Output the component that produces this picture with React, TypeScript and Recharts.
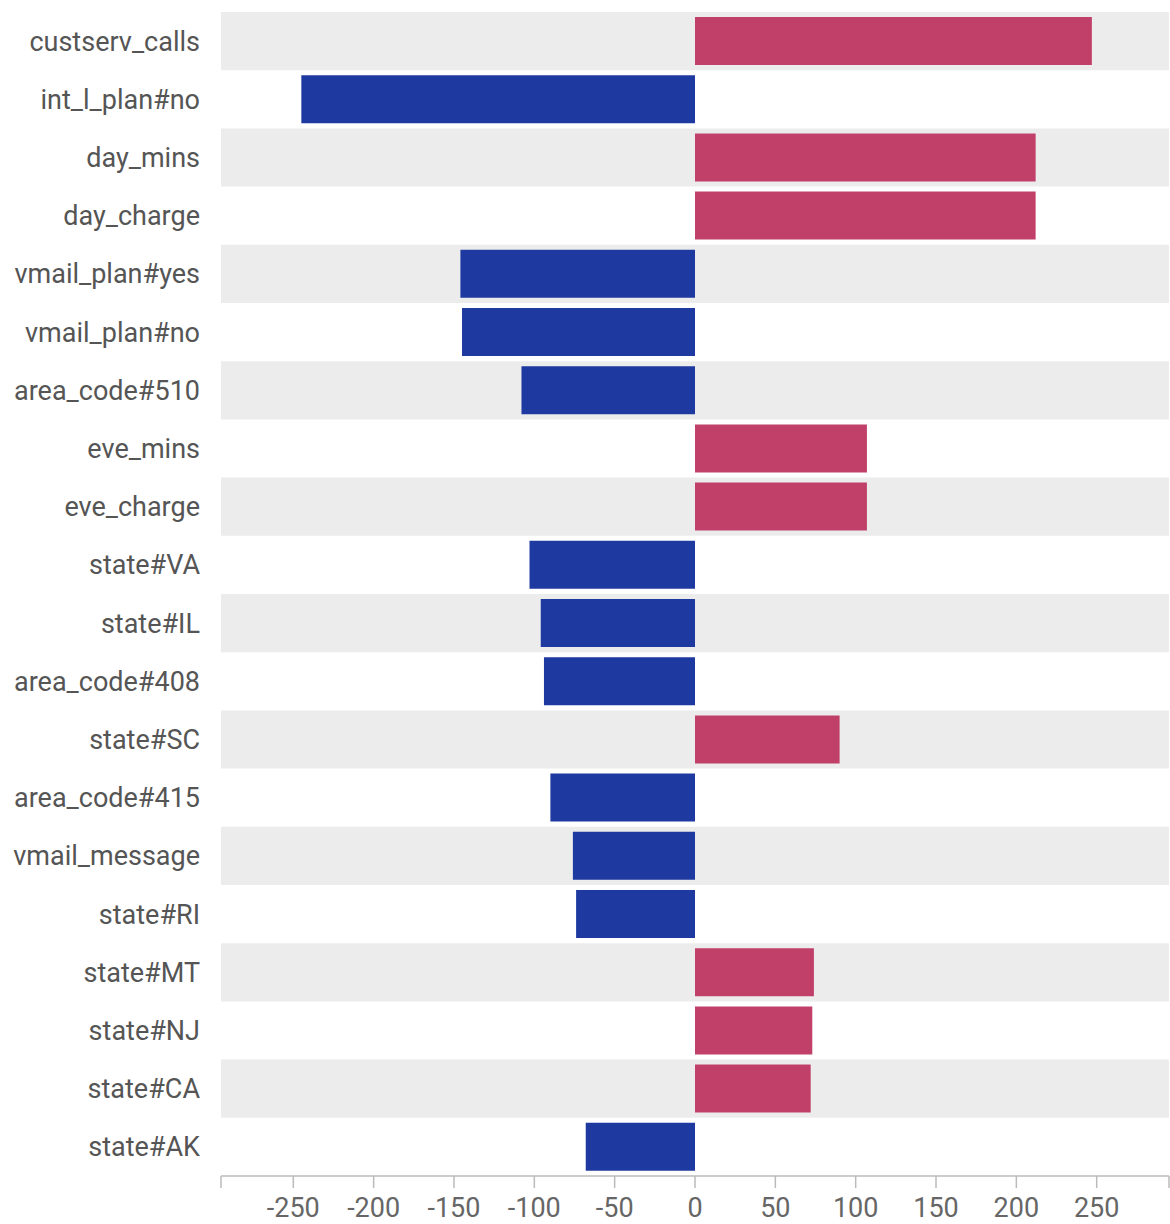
import { BarChart, Bar, XAxis, YAxis, Cell, ReferenceArea } from 'recharts';

const features = [
  'custserv_calls',
  'int_l_plan#no',
  'day_mins',
  'day_charge',
  'vmail_plan#yes',
  'vmail_plan#no',
  'area_code#510',
  'eve_mins',
  'eve_charge',
  'state#VA',
  'state#IL',
  'area_code#408',
  'state#SC',
  'area_code#415',
  'vmail_message',
  'state#RI',
  'state#MT',
  'state#NJ',
  'state#CA',
  'state#AK',
];

const weights = [
  247, -245, 212, 212, -146, -145, -108, 107, 107, -103,
  -96, -94, 90, -90, -76, -74, 74, 73, 72, -68,
];

const xTicks = [-295, -250, -200, -150, -100, -50, 0, 50, 100, 150, 200, 250, 295];
const labeledTicks = [-250, -200, -150, -100, -50, 0, 50, 100, 150, 200, 250];

const POS = '#c0406a';
const NEG = '#1e39a0';

const data = features.map((name, i) => ({ name, value: weights[i] }));

export default function App() {
  return (
    <div style={{ position: 'absolute', left: 0, top: 0 }}>
      <BarChart
        width={1170}
        height={1224}
        data={data}
        layout="vertical"
        margin={{ top: 12, right: 1, bottom: 0, left: 0 }}
        barCategoryGap={5}
      >
        {features
          .filter((_, i) => i % 2 === 0)
          .map((f) => (
            <ReferenceArea key={f} y1={f} y2={f} fill="#ececec" fillOpacity={1} stroke="none" />
          ))}
        <XAxis
          type="number"
          domain={[-295, 295]}
          ticks={xTicks}
          interval={0}
          height={48}
          tickFormatter={(v: number) => (labeledTicks.includes(v) ? String(v) : '')}
          tick={{ fontSize: 27, fill: '#666', fontFamily: 'Roboto' }}
          axisLine={{ stroke: '#bbb', strokeWidth: 1.5 }}
          tickLine={{ stroke: '#bbb', strokeWidth: 1.5 }}
          tickSize={12}
          tickMargin={10}
        />
        <YAxis
          type="category"
          dataKey="name"
          width={221}
          interval={0}
          axisLine={false}
          tickLine={false}
          tickSize={10}
          tickMargin={11}
          tick={{ fontSize: 27, fill: '#555', fontFamily: 'Roboto' }}
        />
        <Bar dataKey="value" isAnimationActive={false}>
          {data.map((d) => (
            <Cell key={d.name} fill={d.value >= 0 ? POS : NEG} />
          ))}
        </Bar>
      </BarChart>
    </div>
  );
}
